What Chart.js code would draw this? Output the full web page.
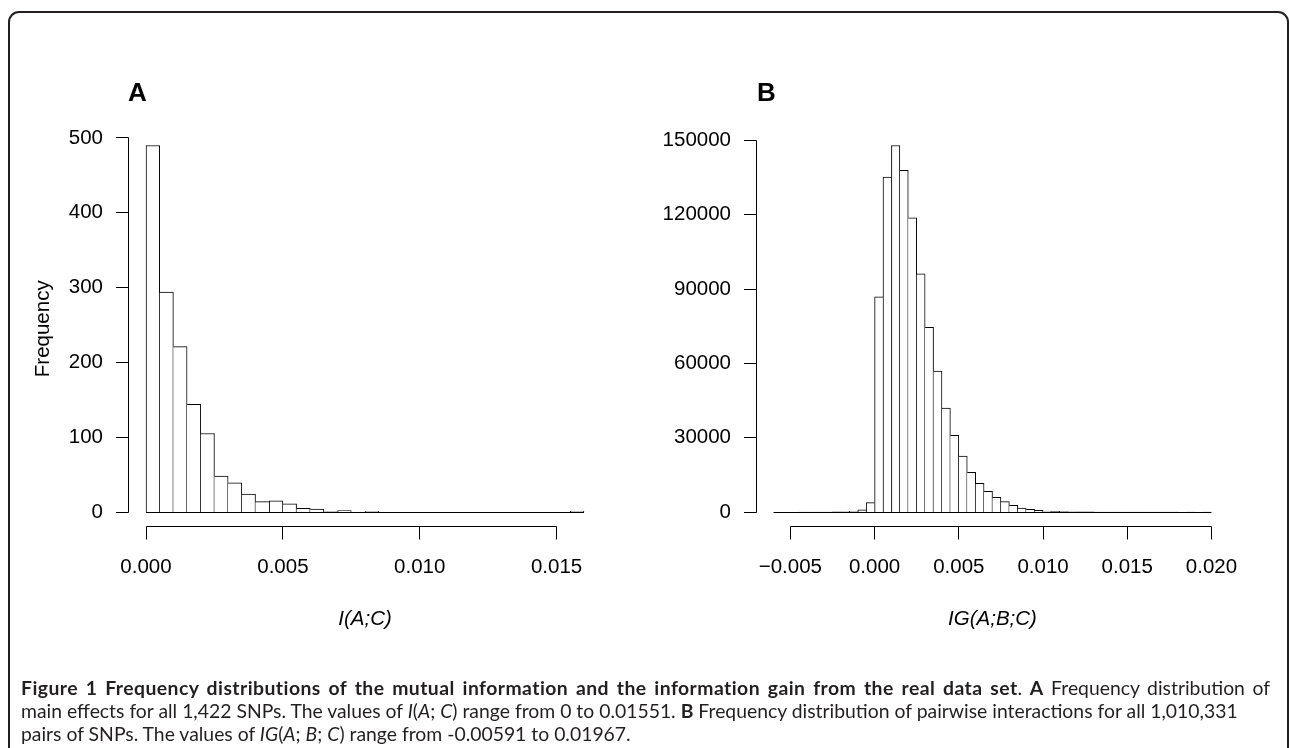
<!DOCTYPE html>
<html lang="en">
<head>
<meta charset="UTF-8">
<title>Figure 1 - frequency distributions of I(A;C) and IG(A;B;C)</title>
<script src="https://cdn.jsdelivr.net/npm/chart.js"></script>
<style>
  body { margin: 0; background: #fff; }
  #page { position: relative; width: 1290px; height: 748px; overflow: hidden; background: #fff; }
  .frame { position: absolute; left: 8px; top: 11px; width: 1281px; height: 800px; border: 2px solid #231f20; border-radius: 11px; box-sizing: border-box; }
  canvas { position: absolute; top: 0; }
  .tag { position: absolute; top: 79px; font: bold 26px "Liberation Sans", Arial, sans-serif; line-height: 26px; color: #000; }
  #caption { position: absolute; left: 21px; top: 676px; width: 1249px; font-family: Lato, "Open Sans", sans-serif; font-size: 20px; line-height: 23px; color: #231f20; white-space: nowrap; }
  #caption span { display: inline-block; }
  #caption .just { text-align: justify; text-align-last: justify; white-space: normal; }
  #caption .just b { letter-spacing: 0.45px; }
</style>
</head>
<body>
<div id="page">
  <div class="frame"></div>
  <canvas id="histA" width="645" height="748" style="left:0"></canvas>
  <canvas id="histB" width="645" height="748" style="left:645px"></canvas>
  <div class="tag" style="left:128px">A</div>
  <div class="tag" style="left:757px">B</div>
  <div id="caption">
    <div class="just"><b>Figure 1 Frequency distributions of the mutual information and the information gain from the real data set</b>. <b>A</b> Frequency distribution of</div>
    <div><span id="ln2">main effects for all 1,422 SNPs. The values of <i>I</i>(<i>A</i>; <i>C</i>) range from 0 to 0.01551. <b>B</b> Frequency distribution of pairwise interactions for all 1,010,331</span></div>
    <div><span>pairs of SNPs. The values of <i>IG</i>(<i>A</i>; <i>B</i>; <i>C</i>) range from -0.00591 to 0.01967.</span></div>
  </div>
</div>

<script>
// panel A: I(A;C), bin edges and counts
const binsA = [0, 0.0005, 0.001, 0.0015, 0.002, 0.0025, 0.003, 0.0035, 0.004, 0.0045, 0.005,
  0.0055, 0.006, 0.0065, 0.007, 0.0075, 0.008, 0.0085, 0.009, 0.0095, 0.010,
  0.0105, 0.011, 0.0115, 0.012, 0.0125, 0.013, 0.0135, 0.014, 0.0145, 0.015, 0.0155, 0.016];
const countsA = [490, 294, 221, 144, 105, 48, 39, 24, 14, 15, 11, 5, 4, 1, 2, 0,
  1, 0, 0, 0, 0, 0, 0, 0, 0, 0, 0, 0, 0, 0, 0, 1];
const xTicksA = [0, 0.005, 0.010, 0.015];
const xLabelsA = ['0.000', '0.005', '0.010', '0.015'];
const yTicksA = [0, 100, 200, 300, 400, 500];
const yLabelsA = ['0', '100', '200', '300', '400', '500'];

// panel B: IG(A;B;C)
const binsB = [-0.006, -0.0055, -0.005, -0.0045, -0.004, -0.0035, -0.003, -0.0025, -0.002, -0.0015, -0.001, -0.0005,
  0, 0.0005, 0.001, 0.0015, 0.002, 0.0025, 0.003, 0.0035, 0.004, 0.0045, 0.005,
  0.0055, 0.006, 0.0065, 0.007, 0.0075, 0.008, 0.0085, 0.009, 0.0095, 0.010,
  0.0105, 0.011, 0.0115, 0.012, 0.0125, 0.013, 0.0135, 0.014, 0.0145, 0.015,
  0.0155, 0.016, 0.0165, 0.017, 0.0175, 0.018, 0.0185, 0.019, 0.0195, 0.020];
const countsB = [0, 0, 0, 1, 2, 6, 15, 40, 110, 300, 900, 3800,
  86900, 135200, 148000, 138000, 118800, 96200, 74600, 56900, 42000, 31000,
  22600, 16000, 11600, 8350, 5900, 4200, 2700, 1600, 1080, 670,
  420, 260, 160, 100, 60, 40, 25, 15, 10, 6,
  4, 3, 2, 1, 1, 1, 0, 1, 0, 1];
const xTicksB = [-0.005, 0, 0.005, 0.010, 0.015, 0.020];
const xLabelsB = ['\u22120.005', '0.000', '0.005', '0.010', '0.015', '0.020'];
const yTicksB = [0, 30000, 60000, 90000, 120000, 150000];
const yLabelsB = ['0', '30000', '60000', '90000', '120000', '150000'];

const axisFont = '20.5px "Liberation Sans", Arial, sans-serif';
const snap = v => Math.round(v - 0.5) + 0.5;

// R style axes: lines only between first and last tick, outward ticks
const rAxes = {
  id: 'rAxes',
  afterDatasetsDraw(chart, args, o) {
    const { ctx, chartArea: a, scales: { x, y } } = chart;
    ctx.save();
    ctx.strokeStyle = '#000';
    ctx.fillStyle = '#000';
    ctx.lineWidth = 1;

    // empty bins still show as a flat line on zero
    const y0 = snap(y.getPixelForValue(0));
    ctx.beginPath();
    ctx.moveTo(x.getPixelForValue(o.bins[0]), y0);
    ctx.lineTo(x.getPixelForValue(o.bins[o.bins.length - 1]), y0);
    ctx.stroke();

    // left axis
    const ax = Math.floor(a.left) + 0.5;
    ctx.beginPath();
    ctx.moveTo(ax, snap(y.getPixelForValue(o.yTicks[0])));
    ctx.lineTo(ax, snap(y.getPixelForValue(o.yTicks[o.yTicks.length - 1])));
    o.yTicks.forEach(v => {
      const py = snap(y.getPixelForValue(v));
      ctx.moveTo(ax, py);
      ctx.lineTo(ax - 12.5, py);
    });
    ctx.stroke();
    ctx.font = axisFont;
    ctx.textAlign = 'right';
    ctx.textBaseline = 'middle';
    o.yTicks.forEach((v, i) => ctx.fillText(o.yLabels[i], ax - 25.5, y.getPixelForValue(v)));

    // bottom axis
    const ay = Math.floor(a.bottom) + 0.5;
    ctx.beginPath();
    ctx.moveTo(snap(x.getPixelForValue(o.xTicks[0])), ay);
    ctx.lineTo(snap(x.getPixelForValue(o.xTicks[o.xTicks.length - 1])), ay);
    o.xTicks.forEach(v => {
      const px = snap(x.getPixelForValue(v));
      ctx.moveTo(px, ay);
      ctx.lineTo(px, ay + 13);
    });
    ctx.stroke();
    ctx.textAlign = 'center';
    ctx.textBaseline = 'alphabetic';
    o.xTicks.forEach((v, i) => ctx.fillText(o.xLabels[i], x.getPixelForValue(v), ay + 46));

    // axis titles
    ctx.font = 'italic ' + axisFont;
    ctx.fillText(o.xTitle, (a.left + a.right) / 2, ay + 98);
    if (o.yTitle) {
      ctx.font = axisFont;
      ctx.translate(a.left - 80, (a.top + a.bottom) / 2);
      ctx.rotate(-Math.PI / 2);
      ctx.fillText(o.yTitle, 0, 0);
    }
    ctx.restore();
  }
};

// one border line per shared edge, drawn by the taller bar
function edgeWidths(counts, i) {
  if (i === undefined) return 1;
  const c = counts[i];
  const prev = i > 0 ? counts[i - 1] : 0;
  const next = i < counts.length - 1 ? counts[i + 1] : 0;
  return { top: 1, bottom: 0, left: c >= prev ? 1 : 0, right: c > next ? 1 : 0 };
}

function histogram(id, bins, counts, xTicks, xLabels, yTicks, yLabels, xTitle, yTitle, padding) {
  const span = bins[bins.length - 1] - bins[0];
  const peak = Math.max(...counts);
  const points = counts.map((c, i) => ({ x: (bins[i] + bins[i + 1]) / 2, y: c }));
  return new Chart(document.getElementById(id), {
    type: 'bar',
    data: {
      datasets: [{
        data: points,
        backgroundColor: '#fff',
        borderColor: '#000',
        borderSkipped: false,
        borderWidth: ctx => edgeWidths(counts, ctx.dataIndex),
        barPercentage: 1,
        categoryPercentage: 1
      }]
    },
    options: {
      responsive: false,
      animation: false,
      events: [],
      layout: { padding },
      plugins: {
        legend: { display: false },
        tooltip: { enabled: false },
        rAxes: { bins, xTicks, xLabels, yTicks, yLabels, xTitle, yTitle }
      },
      scales: {
        x: { type: 'linear', display: false, offset: false,
             min: bins[0] - 0.04 * span, max: bins[bins.length - 1] + 0.04 * span },
        y: { type: 'linear', display: false, min: -0.04 * peak, max: 1.04 * peak }
      }
    },
    plugins: [rAxes]
  });
}

histogram('histA', binsA, countsA, xTicksA, xLabelsA, yTicksA, yLabelsA, 'I(A;C)', 'Frequency',
  { left: 128.5, right: 43.5, top: 130.8, bottom: 221.3 });
histogram('histB', binsB, countsB, xTicksB, xLabelsB, yTicksB, yLabelsB, 'IG(A;B;C)', null,
  { left: 111, right: 61, top: 130.8, bottom: 221.3 });

// size the caption so the second line ends where it does in the figure
const cap = document.getElementById('caption');
const w2 = document.getElementById('ln2').getBoundingClientRect().width;
cap.style.fontSize = (20 * 1218 / w2).toFixed(2) + 'px';
</script>
</body>
</html>
